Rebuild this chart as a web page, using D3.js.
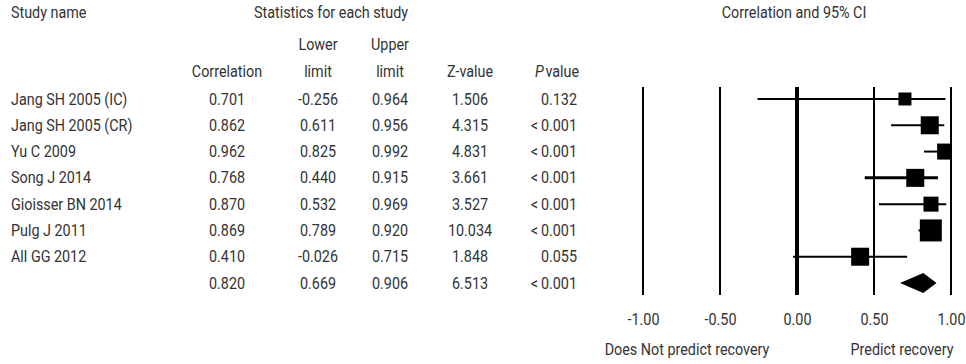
<!DOCTYPE html>
<html>
<head>
<meta charset="utf-8">
<script src="https://cdn.jsdelivr.net/npm/d3@7"></script>
<style>
  body { margin: 0; background: #fff; }
  text { font-family: Roboto, "Liberation Sans", sans-serif; font-size: 16.5px; fill: #333; }
</style>
</head>
<body>
<svg id="chart" width="966" height="364"></svg>
<script>
// study rows
var studies = ["Jang SH 2005 (IC)", "Jang SH 2005 (CR)", "Yu C 2009", "Song J 2014",
               "Gioisser BN 2014", "Pulg J 2011", "All GG 2012"];
var correlation = [0.701, 0.862, 0.962, 0.768, 0.870, 0.869, 0.410];
var lowerLimit  = [-0.256, 0.611, 0.825, 0.440, 0.532, 0.789, -0.026];
var upperLimit  = [0.964, 0.956, 0.992, 0.915, 0.969, 0.920, 0.715];
var zValue      = [1.506, 4.315, 4.831, 3.661, 3.527, 10.034, 1.848];
var pValue      = ["0.132", "<0.001", "<0.001", "<0.001", "<0.001", "<0.001", "0.055"];
var relWeight   = [8.0, 15.4, 12.2, 15.4, 10.7, 23.0, 15.4];

// pooled estimate
var pooledCorr = 0.820, pooledLower = 0.669, pooledUpper = 0.906;
var pooledZ = 6.513, pooledP = "<0.001";

var xTicks = [-1, -0.5, 0, 0.5, 1];

var svg = d3.select("#chart");
var fmt = d3.formatLocale({decimal: ".", thousands: ",", grouping: [3], currency: ["", ""], minus: "-"}).format;
var f3 = fmt(".3f"), f2 = fmt(".2f");
var SX = 0.87; // squeeze text to look condensed

function label(sel, x, y, txt, anchor) {
  return sel.append("text")
    .attr("transform", "translate(" + x + "," + y + ") scale(" + SX + ",1)")
    .attr("text-anchor", anchor || "start")
    .text(txt);
}

var rowIdx = d3.range(studies.length + 1);
var y = d3.scalePoint().domain(rowIdx).range([99, 283]);
var x = d3.scaleLinear().domain([-1, 1]).range([643, 951]);
var box = d3.scaleSqrt().domain([0, d3.max(relWeight)]).range([0, 22]);

// ---- headers
var head = svg.append("g");
label(head, 11, 18, "Study name");
label(head, 331, 18, "Statistics for each study", "middle");
label(head, 794, 18, "Correlation and 95% CI", "middle");

var cols = [227, 318, 390, 470, 557];
label(head, cols[1], 50, "Lower", "middle");
label(head, cols[2], 50, "Upper", "middle");
label(head, cols[0], 77, "Correlation", "middle");
label(head, cols[1], 77, "limit", "middle");
label(head, cols[2], 77, "limit", "middle");
label(head, cols[3], 77, "Z-value", "middle");
var ph = label(head, cols[4], 77, "", "middle");
ph.append("tspan").style("font-style", "italic").text("P");
ph.append("tspan").attr("dx", 2).text("value");

// ---- table rows
var rows = rowIdx.map(function(i) {
  if (i < studies.length) {
    return {name: studies[i], r: correlation[i], lo: lowerLimit[i], hi: upperLimit[i], z: zValue[i], p: pValue[i]};
  }
  return {name: "", r: pooledCorr, lo: pooledLower, hi: pooledUpper, z: pooledZ, p: pooledP};
});

var body = svg.append("g");
rows.forEach(function(d, i) {
  var ty = y(i) + 5.5;
  label(body, 11, ty, d.name);
  label(body, cols[0], ty, f3(d.r), "middle");
  label(body, cols[1], ty, f3(d.lo), "middle");
  label(body, cols[2], ty, f3(d.hi), "middle");
  label(body, cols[3], ty, f3(d.z), "middle");
  label(body, 577, ty, d.p.replace("<", "<\u2009"), "end");
});

// ---- forest plot
svg.append("defs").append("clipPath").attr("id", "plotclip")
  .append("rect").attr("x", x(-1) - 10).attr("y", 80).attr("width", x(1) + 1 - x(-1) + 10).attr("height", 230);

var plot = svg.append("g");
plot.selectAll("line.ref").data(xTicks).join("line")
  .attr("class", "ref")
  .attr("x1", function(d) { return x(d); }).attr("x2", function(d) { return x(d); })
  .attr("y1", 87).attr("y2", 295)
  .attr("stroke", "#000")
  .attr("stroke-width", function(d) { return d === 0 ? 4 : 2; });

var marks = plot.append("g").attr("clip-path", "url(#plotclip)");
var studyRows = rows.slice(0, studies.length);
marks.selectAll("line.ci").data(studyRows).join("line")
  .attr("class", "ci")
  .attr("x1", function(d) { return x(d.lo); }).attr("x2", function(d) { return x(d.hi); })
  .attr("y1", function(d, i) { return y(i); }).attr("y2", function(d, i) { return y(i); })
  .attr("stroke", "#000")
  .attr("stroke-width", function(d, i) { return i === 3 ? 3 : 2; });

marks.selectAll("rect.pt").data(studyRows).join("rect")
  .attr("class", "pt")
  .attr("x", function(d, i) { return x(d.r) - box(relWeight[i]) / 2; })
  .attr("y", function(d, i) { return y(i) - box(relWeight[i]) / 2; })
  .attr("width", function(d, i) { return box(relWeight[i]); })
  .attr("height", function(d, i) { return box(relWeight[i]); })
  .attr("fill", "#000");

var p = rows[studies.length], py = y(studies.length);
marks.append("path")
  .attr("d", "M" + x(p.lo) + "," + py + "L" + x(p.r) + "," + (py - 10) +
             "L" + x(p.hi) + "," + py + "L" + x(p.r) + "," + (py + 10) + "Z")
  .attr("fill", "#000");

// ---- axis labels
var ax = svg.append("g").attr("transform", "translate(0,309)")
  .call(d3.axisBottom(x).tickValues(xTicks).tickSize(0).tickPadding(4).tickFormat(f2));
ax.select(".domain").remove();
ax.selectAll("text")
  .attr("transform", "scale(" + SX + ",1)")
  .attr("fill", "#333")
  .style("font-size", "16.5px")
  .style("font-family", "Roboto, 'Liberation Sans', sans-serif");

label(svg, 687, 355, "Does Not predict recovery", "middle");
label(svg, 902, 355, "Predict recovery", "middle");
</script>
</body>
</html>
